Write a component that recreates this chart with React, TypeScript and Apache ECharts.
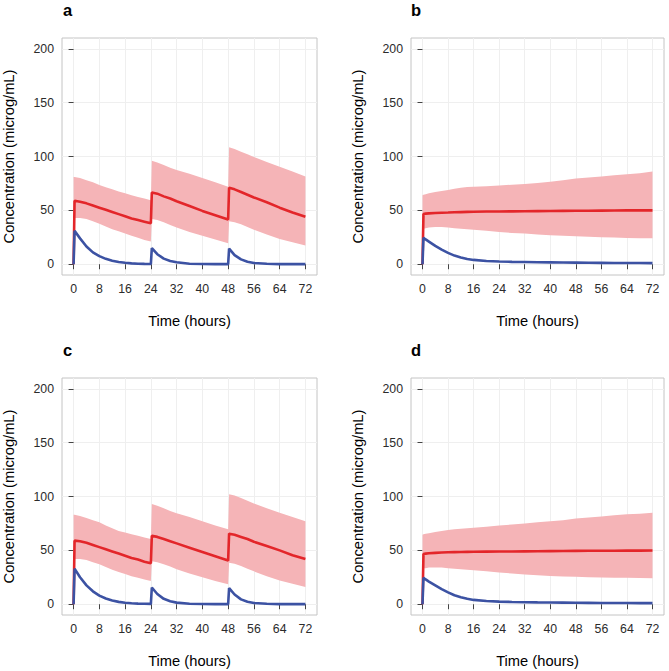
import React, { useEffect, useRef } from "react";
import * as echarts from "echarts";

// ---------- data ----------
const tA = [0, 0.3, 2, 4, 6, 8, 10, 12, 14, 16, 18, 20, 22, 24, 24.3, 26, 28, 30, 32, 36, 40, 44, 48, 48.3, 50, 52, 54, 56, 60, 64, 68, 72];
const blueA = [0, 31, 24, 16.5, 11, 7.5, 5, 3.2, 2, 1.3, 0.8, 0.5, 0.3, 0.2, 15, 9.3, 5.2, 3, 1.8, 0.5, 0.2, 0.1, 0.05, 14.5, 8.5, 4.5, 2.3, 1.2, 0.4, 0.1, 0.05, 0.05];
const redA = [0, 59, 58, 56.5, 54.5, 52.5, 50.5, 48.5, 46.5, 44.5, 42.5, 41, 39.5, 38, 66.5, 65.5, 63, 61, 58.5, 54, 49.5, 45.5, 41.5, 71, 69.5, 67, 64.5, 62, 57.5, 52.5, 48, 44];
const upperA = [81, 81, 80, 78, 76, 73.5, 71.5, 69.5, 67.5, 66, 64, 62.5, 61, 59.5, 96, 94.5, 92, 89.5, 87.5, 84, 80, 76, 72, 108.5, 107, 104.5, 102, 99.5, 95, 90.5, 86, 81.5];
const lowerA = [43, 43, 43, 42, 40, 37.5, 35, 32.5, 30.5, 28.5, 26.5, 24.5, 22.5, 21, 42, 41, 39, 36.5, 34, 30, 26.5, 23, 19.5, 40, 39, 37, 34.5, 32, 27.5, 23.5, 20.5, 17.5];

const tB = [0, 0.3, 1, 2, 4, 6, 8, 10, 12, 14, 16, 20, 24, 28, 32, 36, 40, 44, 48, 52, 56, 60, 64, 68, 72];
const blueB = [0, 24.5, 23, 21, 17, 13.5, 10.5, 8, 6.2, 4.8, 4, 3, 2.5, 2.2, 2, 1.8, 1.7, 1.6, 1.5, 1.4, 1.3, 1.2, 1.1, 1.1, 1.0];
const redB = [0, 46.5, 47, 47.2, 47.5, 47.8, 48, 48.2, 48.4, 48.6, 48.7, 48.9, 49, 49.1, 49.2, 49.3, 49.4, 49.5, 49.6, 49.7, 49.8, 49.9, 50, 50, 50];
const upperB = [64, 64.5, 65, 65.8, 67, 68, 69, 70, 71, 71.8, 72, 72.5, 73, 73.8, 74.5, 75.5, 76.5, 78, 79.5, 80.5, 81.5, 82.5, 83.5, 84.5, 86];
const lowerB = [33, 33, 33.5, 34, 34.5, 34.5, 34, 33.5, 33, 32.5, 32, 31, 30, 29, 28.5, 27.5, 27, 26.5, 26, 25.5, 25, 24.7, 24.4, 24.2, 24];

const tC = tA;
const blueC = [0, 33, 25, 17.5, 12, 8, 5.3, 3.5, 2.2, 1.4, 0.9, 0.6, 0.4, 0.3, 15.5, 9.5, 5, 2.8, 1.5, 0.5, 0.2, 0.1, 0.05, 15, 9, 4.5, 2.3, 1.2, 0.4, 0.1, 0.05, 0.05];
const redC = [0, 59, 58.5, 57, 55, 53, 51, 49, 47, 45, 43, 41.5, 39.5, 38, 63.5, 62.5, 60.5, 58.5, 56.5, 52.5, 48.5, 44.5, 40.5, 65.5, 64.5, 62.5, 60.5, 58, 54, 50, 45.5, 42];
const upperC = [83, 83, 82, 80, 78, 76, 73, 70.5, 68, 66.5, 65, 63.5, 62, 60.5, 93, 91.5, 89, 86.5, 84.5, 81, 77, 73, 69.5, 102, 101, 98.5, 96, 93.5, 89, 85, 81, 77];
const lowerC = [42, 42, 42, 41, 39, 37, 34.5, 32, 30, 28, 26, 24.5, 23, 21.5, 40, 39, 37, 35, 32.5, 28.5, 25, 21.5, 18.5, 38.5, 37.5, 35.5, 33, 30.5, 26, 22, 19, 16];

const tD = tB;
const blueD = [0, 24.5, 23, 21, 17.5, 14, 11, 8.3, 6.4, 5, 4, 3, 2.4, 2.1, 1.9, 1.7, 1.6, 1.5, 1.4, 1.3, 1.2, 1.1, 1.1, 1.0, 1.0];
const redD = [0, 46.5, 47, 47.3, 47.7, 48, 48.2, 48.4, 48.5, 48.6, 48.7, 48.8, 48.9, 49, 49.1, 49.2, 49.3, 49.4, 49.5, 49.6, 49.7, 49.7, 49.8, 49.8, 49.9];
const upperD = [64.5, 65, 65.5, 66, 67, 68, 69, 69.5, 70, 70.5, 71, 72, 73, 74, 75, 76, 77, 78, 79.5, 80.5, 81.5, 82.5, 83.5, 84, 85];
const lowerD = [33.5, 33.5, 33.5, 34, 34, 34, 33.5, 33, 32.5, 32, 31.5, 30.5, 29.5, 28.5, 27.5, 26.8, 26.2, 25.8, 25.4, 25, 24.8, 24.6, 24.5, 24.3, 24.2];

const xTicks = [0, 8, 16, 24, 32, 40, 48, 56, 64, 72];
const yTicks = [0, 50, 100, 150, 200];
const panelLetters = ["a", "b", "c", "d"];
const xTitle = "Time (hours)";
const yTitle = "Concentration (microg/mL)";

const panels = [
  { t: tA, blue: blueA, red: redA, upper: upperA, lower: lowerA },
  { t: tB, blue: blueB, red: redB, upper: upperB, lower: lowerB },
  { t: tC, blue: blueC, red: redC, upper: upperC, lower: lowerC },
  { t: tD, blue: blueD, red: redD, upper: upperD, lower: lowerD },
];

// ---------- layout / style ----------
const FONT = "'Liberation Sans', Arial, Helvetica, sans-serif";
const grids = [
  { left: 62, top: 38, width: 255, height: 237 },
  { left: 411, top: 38, width: 253, height: 237 },
  { left: 62, top: 378, width: 255, height: 237 },
  { left: 411, top: 378, width: 253, height: 237 },
];
const letterPos = [
  { x: 63, y: 9.5 },
  { x: 411, y: 9.5 },
  { x: 63, y: 349.5 },
  { x: 411, y: 349.5 },
];
const RED = "#E3262A";
const BLUE = "#3C52A3";
const BAND = "#F5B4B7";

export default function App() {
  const ref = useRef<HTMLDivElement>(null);
  useEffect(() => {
    if (!ref.current) return;
    const chart = echarts.init(ref.current, null, { renderer: "svg" });
    const xAxes: any[] = [];
    const yAxes: any[] = [];
    const series: any[] = [];
    panels.forEach((p, i) => {
      xAxes.push({
        gridIndex: i,
        type: "value",
        min: -3.6,
        max: 75.6,
        axisLine: { show: false },
        axisTick: { show: true, customValues: xTicks, length: 5, lineStyle: { color: "#444" } },
        axisLabel: { customValues: xTicks, fontSize: 12.3, color: "#2b2b2b", margin: 8, fontFamily: FONT },
        splitLine: { show: true, lineStyle: { color: "#EFEFEF", width: 1 } },
        name: xTitle,
        nameLocation: "middle",
        nameGap: 38,
        nameTextStyle: { fontSize: 14.7, color: "#000", fontFamily: FONT },
      });
      yAxes.push({
        gridIndex: i,
        type: "value",
        min: -10,
        max: 210,
        axisLine: { show: false },
        axisTick: { show: true, customValues: yTicks, length: 5, lineStyle: { color: "#444" } },
        axisLabel: { customValues: yTicks, fontSize: 12.3, color: "#2b2b2b", margin: 8, fontFamily: FONT },
        splitLine: { show: true, lineStyle: { color: "#EFEFEF", width: 1 } },
        name: yTitle,
        nameLocation: "middle",
        nameGap: 46,
        nameTextStyle: { fontSize: 14.7, color: "#000", fontFamily: FONT },
      });
      series.push({
        type: "custom",
        xAxisIndex: i,
        yAxisIndex: i,
        silent: true,
        z: 1,
        data: [[0, 0]],
        renderItem: (_params: any, api: any) => {
          const pts: number[][] = [];
          for (let k = 0; k < p.t.length; k++) pts.push(api.coord([p.t[k], p.upper[k]]));
          for (let k = p.t.length - 1; k >= 0; k--) pts.push(api.coord([p.t[k], p.lower[k]]));
          return { type: "polygon", shape: { points: pts }, style: { fill: BAND } };
        },
      });
      series.push({
        type: "line",
        xAxisIndex: i,
        yAxisIndex: i,
        showSymbol: false,
        silent: true,
        z: 2,
        data: p.t.map((x, k) => [x, p.red[k]]),
        lineStyle: { color: RED, width: 2.6 },
      });
      series.push({
        type: "line",
        xAxisIndex: i,
        yAxisIndex: i,
        showSymbol: false,
        silent: true,
        z: 3,
        data: p.t.map((x, k) => [x, p.blue[k]]),
        lineStyle: { color: BLUE, width: 2.6 },
      });
    });
    chart.setOption({
      animation: false,
      backgroundColor: "#fff",
      textStyle: { fontFamily: FONT },
      grid: grids.map((g) => ({ ...g, show: true, borderColor: "#C4C4C4", borderWidth: 1, backgroundColor: "#fff" })),
      xAxis: xAxes,
      yAxis: yAxes,
      series,
      graphic: panelLetters.map((l, i) => ({
        type: "text",
        x: letterPos[i].x,
        y: letterPos[i].y,
        style: { text: l, font: `bold 16.5px ${FONT}`, fill: "#000", textVerticalAlign: "middle", verticalAlign: "middle" },
      })),
    });
    return () => chart.dispose();
  }, []);
  return <div ref={ref} style={{ position: "fixed", left: 0, top: 0, width: 669, height: 671 }} />;
}
